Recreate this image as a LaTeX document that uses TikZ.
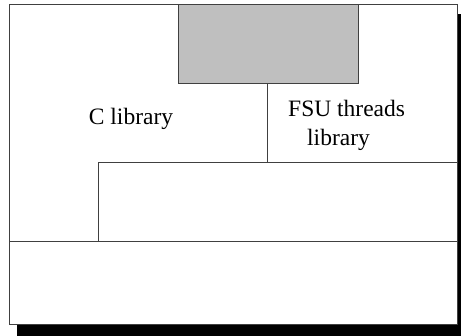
\documentclass[tikz,border=0pt]{standalone}
\usepackage{fontspec}
\setmainfont{Liberation Serif}
\begin{document}
\begin{tikzpicture}[x=1pt,y=-1pt,
		edge/.style={draw=black!75,line width=1pt},
		txt/.style={font=\fontsize{23.5}{29}\selectfont,inner sep=0pt}]
		\useasboundingbox (0,0) rectangle (461,336);

		% frame with its drop shadow
		\fill [black] (17,14) rectangle (466,341);
		\filldraw [edge,fill=white] (9,5) rectangle (457,325);

		% grey block on top
		\filldraw [edge,fill=black!25] (178,5) rectangle (358,84);
		\coordinate (top) at (267,84);

		% steps between the layers
		\coordinate (step) at (267,163);
		\coordinate (stepl) at (98,163);
		\coordinate (stepr) at (457,163);
		\coordinate (base) at (98,242);
		\coordinate (basel) at (9,242);
		\coordinate (baser) at (457,242);
		\draw [edge] (top) -- (step);
		\draw [edge] (stepr) -- (stepl) -- (base);
		\draw [edge] (basel) -- (baser);

		\node [txt,anchor=base] (clib) at (131,125) {C library};
		\node [txt,anchor=north west,align=left] (fsu) at (288,100) {FSU threads\\\hspace*{19pt}library};
	\end{tikzpicture}
\end{document}
